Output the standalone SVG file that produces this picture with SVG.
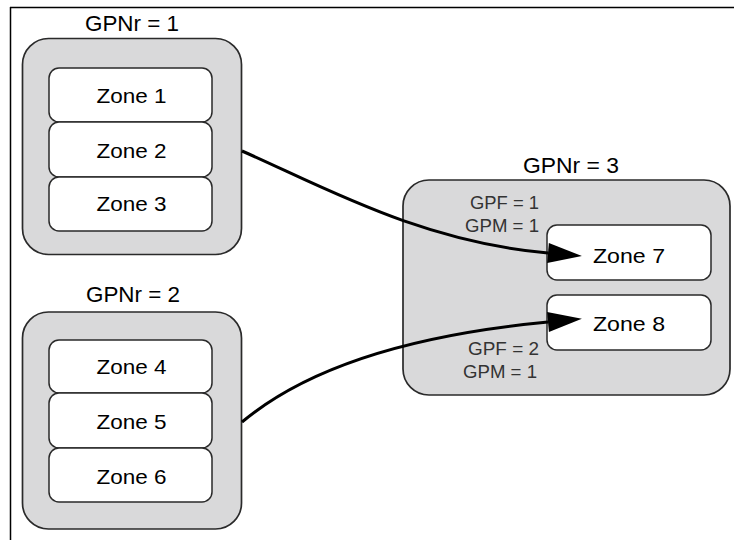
<svg xmlns="http://www.w3.org/2000/svg" width="734" height="540" viewBox="0 0 734 540">
<style>
.grp{fill:#d9d9da;stroke:#2a2a2a;stroke-width:1.7}
.zone{fill:#ffffff;stroke:#2a2a2a;stroke-width:1.5}
.zl{font-family:"Liberation Sans",Arial,sans-serif;font-size:21px;fill:#000;text-anchor:middle}
.gt{font-family:"Liberation Sans",Arial,sans-serif;font-size:22px;fill:#000;text-anchor:middle}
.pl{font-family:"Liberation Sans",Arial,sans-serif;font-size:18px;fill:#333;text-anchor:end}
.conn{fill:none;stroke:#000;stroke-width:3}
.frame{stroke:#000;stroke-width:1.5;fill:none}
</style>
<defs>
<marker id="ah" markerUnits="userSpaceOnUse" markerWidth="36" markerHeight="22" refX="0" refY="10" orient="auto" viewBox="0 0 36 22" overflow="visible">
<path d="M0,0 L34,10 L0,20 z" fill="#000"/>
</marker>
</defs>
<g id="frame">
<line class="frame" x1="10" y1="7.5" x2="734" y2="7.5"/>
<line class="frame" x1="10.5" y1="7" x2="10.5" y2="540"/>
</g>
<g id="gpnr1">
<text class="gt" x="132" y="31" textLength="94" lengthAdjust="spacingAndGlyphs">GPNr = 1</text>
<rect class="grp" x="22.5" y="38.5" width="219" height="216" rx="26"/>
</g>
<g id="zone1"><rect class="zone" x="49" y="68" width="163" height="54" rx="10"/><text class="zl" x="131.5" y="102.5" textLength="70" lengthAdjust="spacingAndGlyphs">Zone 1</text></g>
<g id="zone2"><rect class="zone" x="49" y="122" width="163" height="55" rx="10"/><text class="zl" x="131.5" y="157.5" textLength="70" lengthAdjust="spacingAndGlyphs">Zone 2</text></g>
<g id="zone3"><rect class="zone" x="49" y="177" width="163" height="54" rx="10"/><text class="zl" x="131.5" y="210.5" textLength="70" lengthAdjust="spacingAndGlyphs">Zone 3</text></g>
<g id="gpnr2">
<text class="gt" x="133" y="302" textLength="94" lengthAdjust="spacingAndGlyphs">GPNr = 2</text>
<rect class="grp" x="22.5" y="312" width="219" height="217" rx="26"/>
</g>
<g id="zone4"><rect class="zone" x="49" y="340" width="163" height="53" rx="10"/><text class="zl" x="131.5" y="373.5" textLength="70" lengthAdjust="spacingAndGlyphs">Zone 4</text></g>
<g id="zone5"><rect class="zone" x="49" y="393" width="163" height="55" rx="10"/><text class="zl" x="131.5" y="428.5" textLength="70" lengthAdjust="spacingAndGlyphs">Zone 5</text></g>
<g id="zone6"><rect class="zone" x="49" y="448" width="163" height="54" rx="10"/><text class="zl" x="131.5" y="483.5" textLength="70" lengthAdjust="spacingAndGlyphs">Zone 6</text></g>
<g id="gpnr3">
<text class="gt" x="571" y="173" textLength="96" lengthAdjust="spacingAndGlyphs">GPNr = 3</text>
<rect class="grp" x="403" y="180" width="327" height="215" rx="26"/>
<text class="pl" x="539" y="209" textLength="69" lengthAdjust="spacingAndGlyphs">GPF = 1</text>
<text class="pl" x="539" y="232" textLength="74" lengthAdjust="spacingAndGlyphs">GPM = 1</text>
<text class="pl" x="539" y="355" textLength="71" lengthAdjust="spacingAndGlyphs">GPF = 2</text>
<text class="pl" x="537" y="378" textLength="74" lengthAdjust="spacingAndGlyphs">GPM = 1</text>
</g>
<g id="zone7"><rect class="zone" x="547" y="225" width="164" height="55" rx="10"/><text class="zl" x="629" y="262.5" textLength="72" lengthAdjust="spacingAndGlyphs">Zone 7</text></g>
<g id="zone8"><rect class="zone" x="547" y="295" width="164" height="55" rx="10"/><text class="zl" x="629" y="330.5" textLength="72" lengthAdjust="spacingAndGlyphs">Zone 8</text></g>
<g id="connectors">
<path class="conn" d="M242,151 C320,185 420,242 548,253" marker-end="url(#ah)"/>
<path class="conn" d="M242,422 C310,365 420,334 548,322" marker-end="url(#ah)"/>
</g>
</svg>
